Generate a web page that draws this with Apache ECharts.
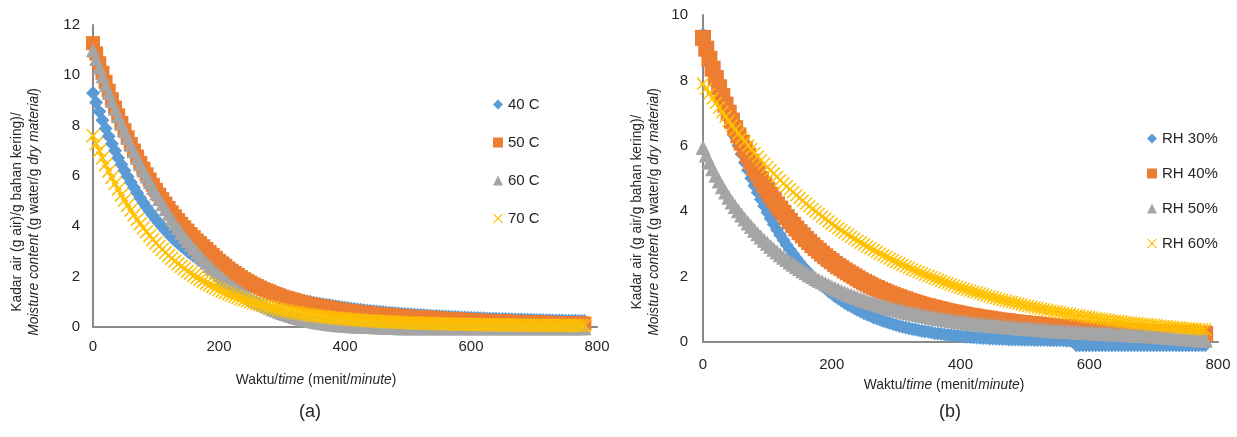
<!DOCTYPE html>
<html><head><meta charset="utf-8">
<script src="https://cdn.jsdelivr.net/npm/echarts@6/dist/echarts.min.js"></script>
<style>html,body{margin:0;padding:0;background:#fff}#c{width:1237px;height:437px}</style>
</head><body><div id="c"></div>
<script>
// time (minutes)
const time = [0,5,10,15,20,25,30,35,40,45,
50,55,60,65,70,75,80,85,90,95,
100,105,110,115,120,125,130,135,140,145,
150,155,160,165,170,175,180,185,190,195,
200,205,210,215,220,225,230,235,240,245,
250,255,260,265,270,275,280,285,290,295,
300,305,310,315,320,325,330,335,340,345,
350,355,360,365,370,375,380,385,390,395,
400,405,410,415,420,425,430,435,440,445,
450,455,460,465,470,475,480,485,490,495,
500,505,510,515,520,525,530,535,540,545,
550,555,560,565,570,575,580,585,590,595,
600,605,610,615,620,625,630,635,640,645,
650,655,660,665,670,675,680,685,690,695,
700,705,710,715,720,725,730,735,740,745,
750,755,760,765,770,775,780];

// panel (a): drying temperature
const tempNames = ['40 C','50 C','60 C','70 C'];
const t40 = [9.30,8.92,8.56,8.22,7.89,7.58,7.28,7.00,6.72,6.46,
6.22,5.98,5.75,5.54,5.33,5.13,4.94,4.76,4.59,4.43,
4.27,4.12,3.97,3.83,3.70,3.57,3.45,3.34,3.22,3.12,
3.01,2.91,2.82,2.73,2.64,2.56,2.48,2.40,2.32,2.25,
2.18,2.12,2.05,1.99,1.93,1.88,1.82,1.77,1.72,1.67,
1.62,1.58,1.53,1.49,1.45,1.41,1.38,1.34,1.30,1.27,
1.24,1.21,1.17,1.14,1.12,1.09,1.06,1.04,1.01,0.99,
0.96,0.94,0.92,0.90,0.88,0.86,0.84,0.82,0.80,0.78,
0.76,0.75,0.73,0.72,0.70,0.69,0.67,0.66,0.64,0.63,
0.62,0.61,0.60,0.58,0.57,0.56,0.55,0.54,0.53,0.52,
0.51,0.50,0.49,0.48,0.48,0.47,0.46,0.45,0.44,0.44,
0.43,0.42,0.42,0.41,0.40,0.40,0.39,0.38,0.38,0.37,
0.37,0.36,0.36,0.35,0.35,0.34,0.34,0.33,0.33,0.32,
0.32,0.32,0.31,0.31,0.30,0.30,0.30,0.29,0.29,0.29,
0.28,0.28,0.28,0.27,0.27,0.27,0.26,0.26,0.26,0.26,
0.25,0.25,0.25,0.25,0.24,0.24,0.24];
const t50 = [11.28,10.87,10.48,10.10,9.74,9.39,9.05,8.72,8.41,8.11,
7.82,7.54,7.27,7.01,6.77,6.52,6.29,6.07,5.86,5.65,
5.45,5.26,5.08,4.90,4.73,4.56,4.40,4.25,4.10,3.96,
3.83,3.69,3.57,3.44,3.33,3.21,3.10,2.98,2.87,2.75,
2.63,2.53,2.44,2.33,2.24,2.15,2.07,1.98,1.90,1.83,
1.76,1.69,1.63,1.57,1.51,1.46,1.41,1.35,1.31,1.26,
1.21,1.17,1.14,1.10,1.07,1.03,0.99,0.97,0.93,0.90,
0.88,0.85,0.83,0.81,0.78,0.77,0.74,0.72,0.70,0.68,
0.66,0.64,0.63,0.61,0.60,0.58,0.57,0.56,0.54,0.53,
0.52,0.50,0.50,0.48,0.47,0.47,0.45,0.44,0.43,0.43,
0.41,0.40,0.39,0.39,0.38,0.37,0.37,0.37,0.36,0.35,
0.34,0.33,0.32,0.32,0.31,0.30,0.30,0.29,0.28,0.28,
0.27,0.27,0.26,0.25,0.25,0.24,0.24,0.23,0.23,0.22,
0.22,0.22,0.21,0.21,0.20,0.20,0.20,0.19,0.19,0.19,
0.18,0.18,0.18,0.17,0.17,0.17,0.16,0.16,0.16,0.16,
0.15,0.15,0.15,0.15,0.14,0.14,0.14];
const t60 = [11.00,10.65,10.30,9.96,9.62,9.30,8.98,8.67,8.37,8.08,
7.79,7.51,7.24,6.98,6.72,6.47,6.22,5.98,5.75,5.52,
5.30,5.09,4.88,4.68,4.48,4.29,4.10,3.92,3.75,3.58,
3.42,3.26,3.11,2.96,2.82,2.68,2.55,2.42,2.30,2.18,
2.07,1.96,1.85,1.75,1.65,1.56,1.47,1.38,1.30,1.22,
1.15,1.08,1.01,0.94,0.88,0.82,0.76,0.71,0.66,0.61,
0.56,0.52,0.48,0.44,0.40,0.36,0.33,0.30,0.27,0.24,
0.22,0.19,0.17,0.15,0.13,0.11,0.10,0.08,0.07,0.06,
0.05,0.04,0.03,0.02,0.02,0.01,0.01,0.00,0.00,-0.01,
-0.01,-0.02,-0.02,-0.03,-0.03,-0.04,-0.04,-0.05,-0.05,-0.05,
-0.05,-0.05,-0.05,-0.05,-0.05,-0.05,-0.05,-0.05,-0.05,-0.05,
-0.05,-0.05,-0.05,-0.05,-0.05,-0.05,-0.05,-0.05,-0.05,-0.05,
-0.05,-0.05,-0.05,-0.05,-0.05,-0.05,-0.05,-0.05,-0.05,-0.05,
-0.05,-0.05,-0.05,-0.05,-0.05,-0.05,-0.05,-0.05,-0.05,-0.05,
-0.05,-0.05,-0.05,-0.05,-0.05,-0.05,-0.05,-0.05,-0.05,-0.05,
-0.05,-0.05,-0.05,-0.05,-0.05,-0.05,-0.05];
const t70 = [7.60,7.29,7.00,6.72,6.45,6.19,5.94,5.70,5.47,5.25,
5.04,4.83,4.64,4.45,4.27,4.10,3.94,3.78,3.63,3.48,
3.34,3.21,3.08,2.96,2.84,2.73,2.62,2.51,2.41,2.32,
2.22,2.14,2.05,1.97,1.89,1.82,1.74,1.68,1.61,1.55,
1.49,1.43,1.37,1.32,1.27,1.22,1.17,1.12,1.08,1.04,
1.00,0.96,0.92,0.89,0.85,0.82,0.79,0.76,0.73,0.70,
0.68,0.65,0.63,0.60,0.58,0.56,0.54,0.52,0.50,0.48,
0.46,0.45,0.43,0.41,0.40,0.39,0.37,0.36,0.35,0.33,
0.32,0.31,0.30,0.29,0.28,0.27,0.26,0.25,0.25,0.24,
0.23,0.22,0.22,0.21,0.20,0.20,0.19,0.19,0.18,0.17,
0.17,0.16,0.16,0.16,0.15,0.15,0.14,0.14,0.14,0.13,
0.13,0.13,0.12,0.12,0.12,0.11,0.11,0.11,0.11,0.10,
0.10,0.10,0.10,0.09,0.09,0.09,0.09,0.09,0.08,0.08,
0.08,0.08,0.08,0.08,0.08,0.08,0.07,0.07,0.07,0.07,
0.07,0.07,0.07,0.07,0.07,0.07,0.06,0.06,0.06,0.06,
0.06,0.06,0.06,0.06,0.06,0.06,0.06];

// panel (b): relative humidity
const rhNames = ['RH 30%','RH 40%','RH 50%','RH 60%'];
const rh30 = [9.40,9.10,8.78,8.45,8.12,7.79,7.47,7.16,6.86,6.57,
6.28,6.01,5.75,5.49,5.25,5.01,4.78,4.57,4.36,4.16,
3.96,3.78,3.60,3.43,3.27,3.12,2.97,2.83,2.69,2.56,
2.44,2.32,2.21,2.10,2.00,1.90,1.81,1.72,1.64,1.55,
1.48,1.40,1.33,1.27,1.20,1.14,1.09,1.03,0.98,0.93,
0.88,0.84,0.80,0.75,0.72,0.68,0.64,0.61,0.58,0.55,
0.52,0.49,0.47,0.44,0.42,0.40,0.38,0.36,0.34,0.32,
0.31,0.29,0.27,0.26,0.25,0.23,0.22,0.21,0.20,0.19,
0.18,0.17,0.16,0.15,0.14,0.14,0.13,0.12,0.12,0.11,
0.11,0.10,0.10,0.09,0.09,0.08,0.08,0.08,0.08,0.07,
0.07,0.07,0.07,0.06,0.06,0.06,0.06,0.06,0.05,0.05,
0.05,0.05,0.05,0.04,0.04,0.04,-0.10,-0.10,-0.10,-0.10,
-0.10,-0.10,-0.10,-0.10,-0.10,-0.10,-0.10,-0.10,-0.10,-0.10,
-0.10,-0.10,-0.10,-0.10,-0.10,-0.10,-0.10,-0.10,-0.10,-0.10,
-0.10,-0.10,-0.10,-0.10,-0.10,-0.10,-0.10,-0.10,-0.10,-0.10,
-0.10,-0.10,-0.10,-0.10,-0.10,-0.10,-0.10];
const rh40 = [9.30,8.97,8.66,8.36,8.07,7.79,7.52,7.26,7.01,6.77,
6.54,6.32,6.10,5.90,5.70,5.51,5.32,5.15,4.98,4.81,
4.65,4.50,4.36,4.21,4.08,3.95,3.82,3.70,3.58,3.47,
3.36,3.26,3.15,3.06,2.96,2.87,2.79,2.70,2.62,2.54,
2.47,2.39,2.32,2.26,2.19,2.13,2.07,2.01,1.95,1.89,
1.84,1.79,1.74,1.69,1.65,1.60,1.56,1.52,1.48,1.44,
1.40,1.37,1.33,1.30,1.26,1.23,1.20,1.17,1.14,1.11,
1.09,1.06,1.04,1.01,0.99,0.96,0.94,0.92,0.90,0.88,
0.86,0.84,0.82,0.80,0.79,0.77,0.75,0.74,0.72,0.71,
0.69,0.68,0.66,0.65,0.64,0.63,0.61,0.60,0.59,0.58,
0.57,0.56,0.55,0.54,0.53,0.52,0.51,0.50,0.49,0.48,
0.47,0.47,0.46,0.45,0.44,0.44,0.43,0.42,0.42,0.41,
0.40,0.40,0.39,0.38,0.38,0.37,0.37,0.36,0.36,0.35,
0.35,0.34,0.34,0.33,0.33,0.32,0.32,0.31,0.31,0.31,
0.30,0.30,0.30,0.29,0.29,0.28,0.28,0.28,0.27,0.27,
0.27,0.26,0.26,0.26,0.26,0.25,0.25];
const rh50 = [5.95,5.72,5.50,5.30,5.10,4.92,4.75,4.59,4.43,4.28,
4.14,4.01,3.88,3.76,3.64,3.53,3.42,3.31,3.21,3.11,
3.02,2.93,2.84,2.75,2.67,2.59,2.52,2.45,2.38,2.31,
2.25,2.18,2.12,2.06,2.00,1.94,1.89,1.84,1.79,1.74,
1.69,1.64,1.60,1.55,1.51,1.47,1.43,1.39,1.36,1.32,
1.29,1.25,1.22,1.19,1.16,1.13,1.10,1.07,1.05,1.02,
1.00,0.97,0.95,0.92,0.90,0.88,0.86,0.84,0.82,0.80,
0.78,0.76,0.74,0.72,0.71,0.69,0.68,0.66,0.65,0.63,
0.62,0.61,0.60,0.58,0.57,0.56,0.55,0.54,0.53,0.52,
0.51,0.50,0.49,0.48,0.47,0.46,0.45,0.44,0.43,0.43,
0.42,0.41,0.40,0.40,0.39,0.38,0.37,0.37,0.36,0.35,
0.34,0.34,0.33,0.33,0.32,0.31,0.30,0.30,0.29,0.29,
0.28,0.28,0.27,0.27,0.26,0.26,0.25,0.25,0.24,0.24,
0.23,0.23,0.22,0.22,0.21,0.21,0.20,0.20,0.19,0.19,
0.18,0.17,0.16,0.16,0.15,0.14,0.13,0.13,0.12,0.11,
0.10,0.10,0.09,0.08,0.07,0.06,0.05];
const rh60 = [7.90,7.75,7.60,7.45,7.31,7.17,7.03,6.89,6.76,6.63,
6.50,6.38,6.25,6.13,6.01,5.90,5.78,5.67,5.56,5.45,
5.35,5.25,5.15,5.05,4.95,4.85,4.76,4.67,4.58,4.49,
4.40,4.32,4.23,4.15,4.07,3.99,3.92,3.84,3.77,3.69,
3.62,3.55,3.48,3.42,3.35,3.29,3.22,3.16,3.10,3.04,
2.98,2.92,2.87,2.81,2.76,2.70,2.65,2.60,2.55,2.50,
2.45,2.41,2.36,2.31,2.27,2.22,2.18,2.14,2.10,2.06,
2.02,1.98,1.94,1.90,1.87,1.83,1.80,1.76,1.73,1.69,
1.66,1.63,1.60,1.57,1.54,1.51,1.48,1.45,1.42,1.39,
1.37,1.34,1.31,1.29,1.26,1.24,1.22,1.19,1.17,1.15,
1.12,1.10,1.08,1.06,1.04,1.02,1.00,0.98,0.96,0.94,
0.93,0.91,0.89,0.87,0.86,0.84,0.82,0.81,0.79,0.78,
0.76,0.75,0.73,0.72,0.70,0.69,0.68,0.66,0.65,0.64,
0.63,0.61,0.60,0.59,0.58,0.57,0.56,0.55,0.54,0.53,
0.52,0.51,0.50,0.49,0.48,0.47,0.46,0.45,0.44,0.43,
0.42,0.42,0.41,0.40,0.39,0.39,0.38];

const FONT = "'Liberation Sans', Arial, sans-serif";
const TXT = '#262626';
const COLORS = ['#5B9BD5','#ED7D31','#A5A5A5','#FFC000'];
const CROSS = 'path://M0,0.8L0.8,0L5,4.2L9.2,0L10,0.8L5.8,5L10,9.2L9.2,10L5,5.8L0.8,10L0,9.2L4.2,5Z';
const SYMBOLS = ['diamond','rect','triangle',CROSS];

function mk(name, vals, i, gi, size) {
  return {
    name: name, type: 'line', xAxisIndex: gi, yAxisIndex: gi,
    data: time.map(function (t, k) { return [t, vals[k]]; }),
    symbol: SYMBOLS[i], symbolSize: size, showSymbol: true, showAllSymbol: true,
    clip: false, animation: false, silent: true,
    itemStyle: { color: COLORS[i] },
    lineStyle: i === 3 ? { width: 2, color: '#FFC000' } : { width: 0, opacity: 0 },
    emphasis: { disabled: true }
  };
}
function xAx(gi, margin) {
  return { gridIndex: gi, type: 'value', min: 0, max: 800, interval: 200,
    axisLine: { show: true, onZero: false, lineStyle: { color: '#898989', width: 2 } },
    axisTick: { show: false }, splitLine: { show: false },
    axisLabel: { fontFamily: FONT, fontSize: 15, color: TXT, margin: margin } };
}
function yAx(gi, max, margin) {
  return { gridIndex: gi, type: 'value', min: 0, max: max, interval: 2,
    axisLine: { show: true, onZero: false, lineStyle: { color: '#898989', width: 2 } },
    axisTick: { show: false }, splitLine: { show: false },
    axisLabel: { fontFamily: FONT, fontSize: 15, color: TXT, margin: margin } };
}
const rich = {
  n: { fontFamily: FONT, fontSize: 15, fill: TXT, lineHeight: 17 },
  i: { fontFamily: FONT, fontSize: 15, fill: TXT, fontStyle: 'italic', lineHeight: 17 }
};
function ytitle(x, line1) {
  return { type: 'text', x: x, y: 212, rotation: Math.PI / 2, scaleX: 0.92, silent: true,
    style: { text: '{n|' + line1 + '}\n{i|Moisture content}{n| (g water/g }{i|dry material}{n|)}',
      rich: rich, align: 'center', verticalAlign: 'middle' } };
}
function xtitle(x, y) {
  return { type: 'text', x: x, y: y, scaleX: 0.92, silent: true,
    style: { text: '{n|Waktu/}{i|time}{n| (menit/}{i|minute}{n|)}', rich: rich, align: 'center', verticalAlign: 'middle' } };
}
function legend(names, left, top, gap) {
  return { data: names.map(function (n, i) { return { name: n, icon: SYMBOLS[i] }; }),
    orient: 'vertical', left: left, top: top, itemWidth: 10, itemHeight: 10, itemGap: gap,
    selectedMode: false, textStyle: { fontFamily: FONT, fontSize: 15, color: TXT } };
}

const chart = echarts.init(document.getElementById('c'), null, { renderer: 'canvas' });
chart.setOption({
  animation: false,
  backgroundColor: '#fff',
  grid: [
    { left: 93, top: 25, width: 504, height: 302 },
    { left: 703, top: 15, width: 515, height: 327 }
  ],
  xAxis: [xAx(0, 12), xAx(1, 15)],
  yAxis: [yAx(0, 12, 13), yAx(1, 10, 15)],
  legend: [legend(tempNames, 488, 92, 23), legend(rhNames, 1142, 126, 20)],
  series: [
    mk(tempNames[0], t40, 0, 0, 14), mk(tempNames[1], t50, 1, 0, 14),
    mk(tempNames[2], t60, 2, 0, 14), mk(tempNames[3], t70, 3, 0, 14),
    mk(rhNames[0], rh30, 0, 1, 14), mk(rhNames[1], rh40, 1, 1, 16),
    mk(rhNames[2], rh50, 2, 1, 15), mk(rhNames[3], rh60, 3, 1, 13)
  ],
  graphic: [
    ytitle(25, 'Kadar air (g air)/g bahan kering)/'),
    ytitle(645, 'Kadar air (g air/g bahan kering)/'),
    xtitle(316, 380), xtitle(944, 385),
    { type: 'text', x: 310, y: 412, silent: true, style: { text: '(a)', font: "18px 'Liberation Sans', Arial, sans-serif", fill: TXT, align: 'center', verticalAlign: 'middle' } },
    { type: 'text', x: 950, y: 412, silent: true, style: { text: '(b)', font: "18px 'Liberation Sans', Arial, sans-serif", fill: TXT, align: 'center', verticalAlign: 'middle' } }
  ]
});
</script></body></html>
